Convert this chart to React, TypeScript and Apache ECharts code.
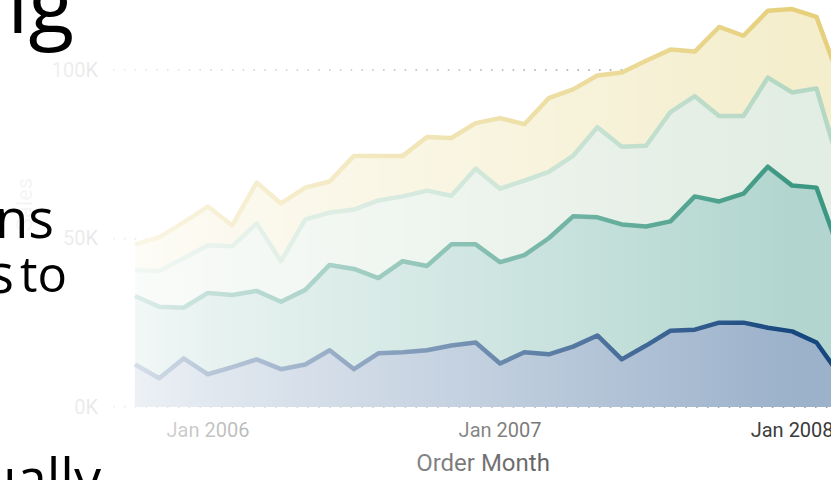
import React, { useEffect, useRef } from "react";
import * as echarts from "echarts";

const months = [
  "Oct 2005", "Nov 2005", "Dec 2005",
  "Jan 2006", "Feb 2006", "Mar 2006", "Apr 2006", "May 2006", "Jun 2006",
  "Jul 2006", "Aug 2006", "Sep 2006", "Oct 2006", "Nov 2006", "Dec 2006",
  "Jan 2007", "Feb 2007", "Mar 2007", "Apr 2007", "May 2007", "Jun 2007",
  "Jul 2007", "Aug 2007", "Sep 2007", "Oct 2007", "Nov 2007", "Dec 2007",
  "Jan 2008", "Feb 2008", "Mar 2008",
];

const tickLabels = ["Jan 2006", "Jan 2007", "Jan 2008"];

// cumulative (stacked) totals, top band first
const yellowTotals = [
  48200, 50300, 54700, 59400, 53800, 66500, 60300, 65000, 66800, 74400,
  74400, 74400, 80000, 79700, 84100, 85600, 83800, 91500, 94100, 98200,
  99100, 102600, 105900, 105300, 112600, 110000, 117400, 117900, 115600, 96000,
];
const lightGreenTotals = [
  40600, 40300, 44100, 47900, 47600, 54400, 43200, 55600, 57600, 58500,
  61200, 62400, 64100, 62600, 70600, 64700, 67100, 69700, 74400, 82900,
  77100, 77400, 87400, 92100, 86200, 86200, 97600, 93200, 94400, 70000,
];
const midGreenTotals = [
  32900, 29700, 29400, 33800, 33200, 34400, 31200, 34700, 42100, 40900,
  38200, 43200, 41800, 48200, 48200, 42900, 45000, 50000, 56500, 56200,
  54100, 53500, 55000, 62400, 60900, 63200, 71200, 65600, 65000, 45000,
];
const blueTotals = [
  12600, 8500, 14400, 9700, 11800, 14100, 11200, 12600, 16800, 11200,
  15900, 16200, 16800, 18200, 19100, 12900, 16200, 15600, 17900, 21200,
  14100, 18200, 22600, 22900, 25000, 25000, 23500, 22400, 19100, 9000,
];

const bands = [
  { name: "Band 1", values: yellowTotals, line: "#E6D07C", fill: "#F4EECD" },
  { name: "Band 2", values: lightGreenTotals, line: "#B4D8C3", fill: "#E2EDE3" },
  { name: "Band 3", values: midGreenTotals, line: "#3C9882", fill: "#B2D6CF" },
  { name: "Band 4", values: blueTotals, line: "#17477F", fill: "#9CB2CB" },
];

const CHART_W = 880;
const CHART_H = 480;

export default function App() {
  const ref = useRef<HTMLDivElement>(null);

  useEffect(() => {
    if (!ref.current) return;
    const chart = echarts.init(ref.current, null, { renderer: "svg" });
    const axisFont = "Roboto, 'DejaVu Sans', sans-serif";
    const slideFont = "'Open Sans', 'Noto Sans', sans-serif";

    const slideText = (text: string, x: number, y: number, size: number) => ({
      type: "text",
      z: 100,
      silent: true,
      style: {
        text,
        x,
        y,
        textAlign: "right",
        textVerticalAlign: "middle",
        fontSize: size,
        fontFamily: slideFont,
        fill: "#000000",
      },
    });

    const option: any = {
      animation: false,
      backgroundColor: "#ffffff",
      grid: { left: 113, right: 27, top: 2, bottom: 70 },
      xAxis: {
        type: "value",
        min: -0.9,
        max: 29.5,
        axisLine: { show: false },
        axisTick: { show: false },
        splitLine: { show: false },
        axisLabel: {
          customValues: tickLabels.map((t) => months.indexOf(t)),
          formatter: (v: number) => months[Math.round(v)] ?? "",
          color: "#3a3a3a",
          fontSize: 20,
          fontFamily: axisFont,
          margin: 13,
        },
        name: "Order Month",
        nameLocation: "middle",
        nameGap: 44,
        nameTextStyle: { color: "#1e1e1e", fontSize: 24, fontFamily: axisFont },
      },
      yAxis: {
        type: "value",
        min: 0,
        max: 120000,
        interval: 50000,
        z: 3,
        axisLine: { show: false },
        axisTick: { show: false },
        axisLabel: {
          formatter: (v: number) => `${v / 1000}K`,
          showMaxLabel: false,
          color: "#3a3a3a",
          fontSize: 20,
          fontFamily: axisFont,
          margin: 15,
        },
        splitLine: {
          show: true,
          showMaxLine: false,
          lineStyle: { color: "#a0a0a0", width: 2, type: [1.6, 9.2] },
        },
        name: "Sales",
        nameLocation: "middle",
        nameGap: 78,
        nameTextStyle: { color: "#3a3a3a", fontSize: 22, fontFamily: axisFont },
      },
      series: bands.map((b) => ({
        name: b.name,
        type: "line",
        data: b.values.map((v, i) => [i, v]),
        showSymbol: false,
        symbol: "none",
        lineStyle: { color: b.line, width: 4.5, join: "round" },
        areaStyle: { color: b.fill, opacity: 1 },
        itemStyle: { color: b.line },
        emphasis: { disabled: true },
      })),
      graphic: [
        {
          type: "rect",
          silent: true,
          z: 50,
          shape: { x: 0, y: 0, width: CHART_W, height: CHART_H },
          style: {
            fill: new echarts.graphic.LinearGradient(0, 0, 1, 0, [
              { offset: 0, color: "rgba(255,255,255,0.97)" },
              { offset: 100 / CHART_W, color: "rgba(255,255,255,0.88)" },
              { offset: 208 / CHART_W, color: "rgba(255,255,255,0.70)" },
              { offset: 500 / CHART_W, color: "rgba(255,255,255,0.36)" },
              { offset: 790 / CHART_W, color: "rgba(255,255,255,0)" },
              { offset: 1, color: "rgba(255,255,255,0)" },
            ]),
          },
        },
        slideText("ig", 74, 0, 84),
        slideText("ns", 54, 217, 54),
        slideText("s", 14, 272, 54),
        slideText("to", 67, 273, 49),
        slideText("ually", 101, 477, 54),
      ],
    };

    chart.setOption(option);
    return () => chart.dispose();
  }, []);

  return (
    <div
      style={{
        position: "fixed",
        left: 0,
        top: 0,
        width: 831,
        height: 480,
        overflow: "hidden",
        background: "#ffffff",
      }}
    >
      <div ref={ref} style={{ width: CHART_W, height: CHART_H }} />
    </div>
  );
}
